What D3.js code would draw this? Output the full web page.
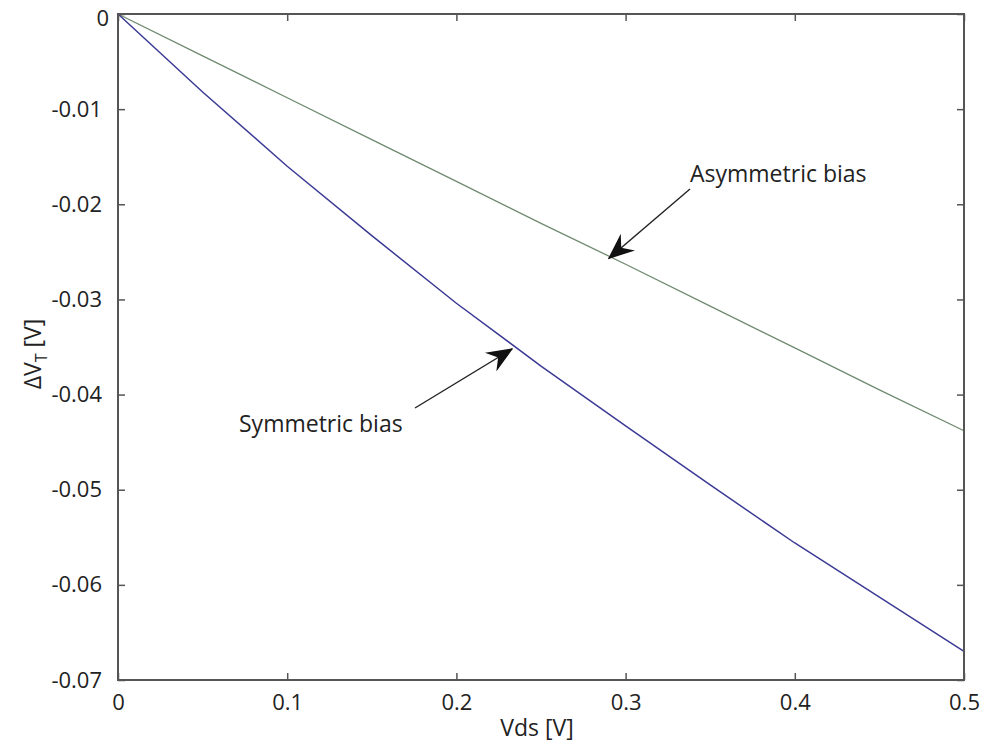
<html>
  <head>
    <script src="https://d3js.org/d3.v7.min.js" charset="utf-8"></script>
    <style>
      body { margin: 0; background: #fff; }
      text { font-family: "Open Sans", "DejaVu Sans", sans-serif; fill: #222; }
    </style>
  </head>
  <body>
    <script>
      var w = 986;
      var h = 747;

      // data
      var vds = [0, 0.05, 0.1, 0.15, 0.2, 0.25, 0.3, 0.35, 0.4, 0.45, 0.5];
      var symmetric = [0, -0.0082, -0.0160, -0.0233, -0.0304, -0.0370, -0.0433, -0.0495, -0.0556, -0.0613, -0.0670];
      var asymmetric = [0, -0.0044, -0.0088, -0.0132, -0.0176, -0.0220, -0.0263, -0.0307, -0.0351, -0.0395, -0.0438];
      var xTicks = [0, 0.1, 0.2, 0.3, 0.4, 0.5];
      var yTicks = [0, -0.01, -0.02, -0.03, -0.04, -0.05, -0.06, -0.07];

      var m = {left: 118, right: 964, top: 14, bottom: 680};

      var svg = d3.select("body")
      .append("svg")
      .attr("width", w)
      .attr("height", h);

      var x = d3.scaleLinear().domain([0, 0.5]).range([m.left, m.right]);
      var y = d3.scaleLinear().domain([-0.07, 0]).range([m.bottom, m.top]);

      var axisColor = "#555";

      // lines
      var line = d3.line()
      .x(function(d){return x(d[0]);})
      .y(function(d){return y(d[1]);});

      svg.append("path")
      .datum(vds.map(function(v, i){return [v, asymmetric[i]];}))
      .attr("d", line)
      .attr("fill", "none")
      .attr("stroke", "#6f8a70")
      .attr("stroke-width", 1.3);

      svg.append("path")
      .datum(vds.map(function(v, i){return [v, symmetric[i]];}))
      .attr("d", line)
      .attr("fill", "none")
      .attr("stroke", "#3b3b96")
      .attr("stroke-width", 1.5);

      // axes, ticks inside, boxed
      function styleAxis(g){
        g.select(".domain").remove();
        g.selectAll(".tick line").attr("stroke", axisColor).attr("stroke-width", 1.5);
        g.selectAll("text").attr("font-size", 22).attr("fill", "#222")
        .style("font-family", "'Open Sans', 'DejaVu Sans', sans-serif");
      }

      // plain hyphen for the minus sign, as in the picture
      var fmt = function(d){return d === 0 ? "0" : String(+d.toFixed(2));};

      svg.append("g")
      .attr("transform", "translate(0," + m.bottom + ")")
      .call(d3.axisBottom(x).tickValues(xTicks).tickSize(-7).tickPadding(14).tickFormat(fmt))
      .call(styleAxis);

      svg.append("g")
      .attr("transform", "translate(0," + m.top + ")")
      .call(d3.axisTop(x).tickValues(xTicks).tickSize(-7).tickFormat(""))
      .call(styleAxis);

      var yAxis = svg.append("g")
      .attr("transform", "translate(" + m.left + ",0)")
      .call(d3.axisLeft(y).tickValues(yTicks).tickSize(-7).tickPadding(16).tickFormat(fmt))
      .call(styleAxis);

      // the top "0" sits a little lower and to the right, keeps it inside the frame
      yAxis.selectAll(".tick text")
      .filter(function(d){return d === 0;})
      .attr("x", -9)
      .attr("dy", "0.5em");

      svg.append("g")
      .attr("transform", "translate(" + m.right + ",0)")
      .call(d3.axisRight(y).tickValues(yTicks).tickSize(-7).tickFormat(""))
      .call(styleAxis);

      svg.append("rect")
      .attr("x", m.left)
      .attr("y", m.top)
      .attr("width", m.right - m.left)
      .attr("height", m.bottom - m.top)
      .attr("fill", "none")
      .attr("stroke", axisColor)
      .attr("stroke-width", 2);

      // axis labels
      svg.append("text")
      .attr("x", 537)
      .attr("y", 736)
      .attr("text-anchor", "middle")
      .attr("font-size", 23)
      .text("Vds [V]");

      var yl = svg.append("text")
      .attr("transform", "translate(41,354) rotate(-90)")
      .attr("text-anchor", "middle")
      .attr("font-size", 23);
      yl.append("tspan").text("\u0394V");
      yl.append("tspan").attr("font-size", 16).attr("dy", 6).text("T");
      yl.append("tspan").attr("dy", -6).text(" [V]");

      // arrows
      var marker = svg.append("defs").append("marker")
      .attr("id", "arrowhead")
      .attr("viewBox", "0 0 12 10")
      .attr("refX", 11.5)
      .attr("refY", 5)
      .attr("markerWidth", 28)
      .attr("markerHeight", 22)
      .attr("markerUnits", "userSpaceOnUse")
      .attr("orient", "auto");
      marker.append("path")
      .attr("d", "M0,0 L12,5 L0,10 L4,5 Z")
      .attr("fill", "#111");

      var notes = [
        {text: "Asymmetric bias", tx: 690, ty: 182, x1: 690, y1: 189, vx: 0.29, vy: -0.0257},
        {text: "Symmetric bias", tx: 239, ty: 432, x1: 415, y1: 408, vx: 0.233, vy: -0.0352}
      ];

      notes.forEach(function(n){
        svg.append("line")
        .attr("x1", n.x1)
        .attr("y1", n.y1)
        .attr("x2", x(n.vx))
        .attr("y2", y(n.vy))
        .attr("stroke", "#222")
        .attr("stroke-width", 1.4)
        .attr("marker-end", "url(#arrowhead)");
        svg.append("text")
        .attr("x", n.tx)
        .attr("y", n.ty)
        .attr("font-size", 23)
        .text(n.text);
      });
    </script>
  </body>
</html>
